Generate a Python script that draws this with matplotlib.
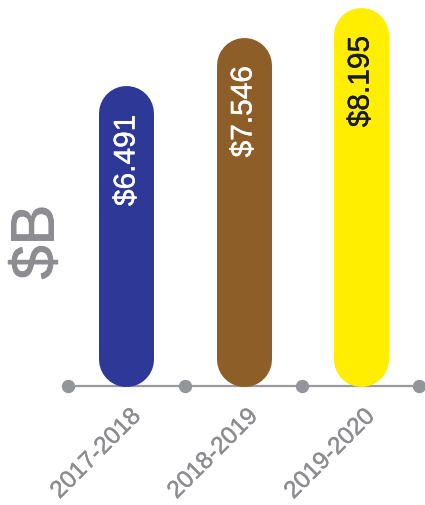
import matplotlib.pyplot as plt
import matplotlib.patheffects as pe
from matplotlib.transforms import offset_copy

plt.rcParams['font.family'] = ['Liberation Sans', 'DejaVu Sans']

# fiscal years and budget totals in billions
years = ['2017-2018', '2018-2019', '2019-2020']
values = [6.491, 7.546, 8.195]
labels = ['$6.491', '$7.546', '$8.195']
bar_colors = ['#2e3897', '#8e5e28', '#ffee00']
text_colors = ['white', 'white', '#1a1a1a']
grey = '#8d8d91'


def heavier(color, w=0.3):
    # thicken the regular face a touch
    return [pe.withStroke(linewidth=w, foreground=color)]


fig = plt.figure(figsize=(4.25, 5.06), dpi=100)
ax = fig.add_axes([0, 0, 1, 1])
ax.set_xlim(-1.081, 2.551)
ax.set_ylim(-2.573, 8.368)
ax.axis('off')

# pixels per y unit, so the round caps stay inside 0..value
y_scale = 506 / (8.368 + 2.573)
bar_px = 55
cap = (bar_px / 2) / y_scale

for i, (v, c) in enumerate(zip(values, bar_colors)):
    # pill-shaped bar: a thick line with round ends
    ax.plot([i, i], [cap, v - cap], color=c, lw=bar_px * 72 / 100,
            solid_capstyle='round', zorder=2)

    # value label written down the bar, just below the rounded top
    top = offset_copy(ax.transData, fig=fig, x=0, y=-29, units='dots')
    ax.text(i, v, labels[i], transform=top, rotation=90,
            ha='center', va='top', fontsize=21.5, color=text_colors[i], zorder=3,
            path_effects=heavier(text_colors[i]))

    # year label under the axis line
    tick = offset_copy(ax.transData, fig=fig, x=11, y=-27, units='dots')
    ax.text(i, 0, years[i], transform=tick, rotation=45, rotation_mode='anchor',
            ha='right', va='center', fontsize=17.5, color=grey,
            path_effects=heavier(grey, 0.25))

# baseline with dots between the bars
dots_x = [-0.5, 0.5, 1.5, 2.5]
ax.plot([dots_x[0], dots_x[-1]], [0, 0], color='#9a9a9e', lw=1.6, zorder=1)
ax.plot(dots_x, [0] * len(dots_x), 'o', color='#939598', ms=8.6, zorder=1,
        clip_on=False)

# unit label
fig.text(38 / 425, 1 - 243 / 506, '$B', rotation=90, ha='center', va='center',
         fontsize=44, color=grey, path_effects=heavier(grey, 0.7))

fig.savefig('out.png', dpi=100)
